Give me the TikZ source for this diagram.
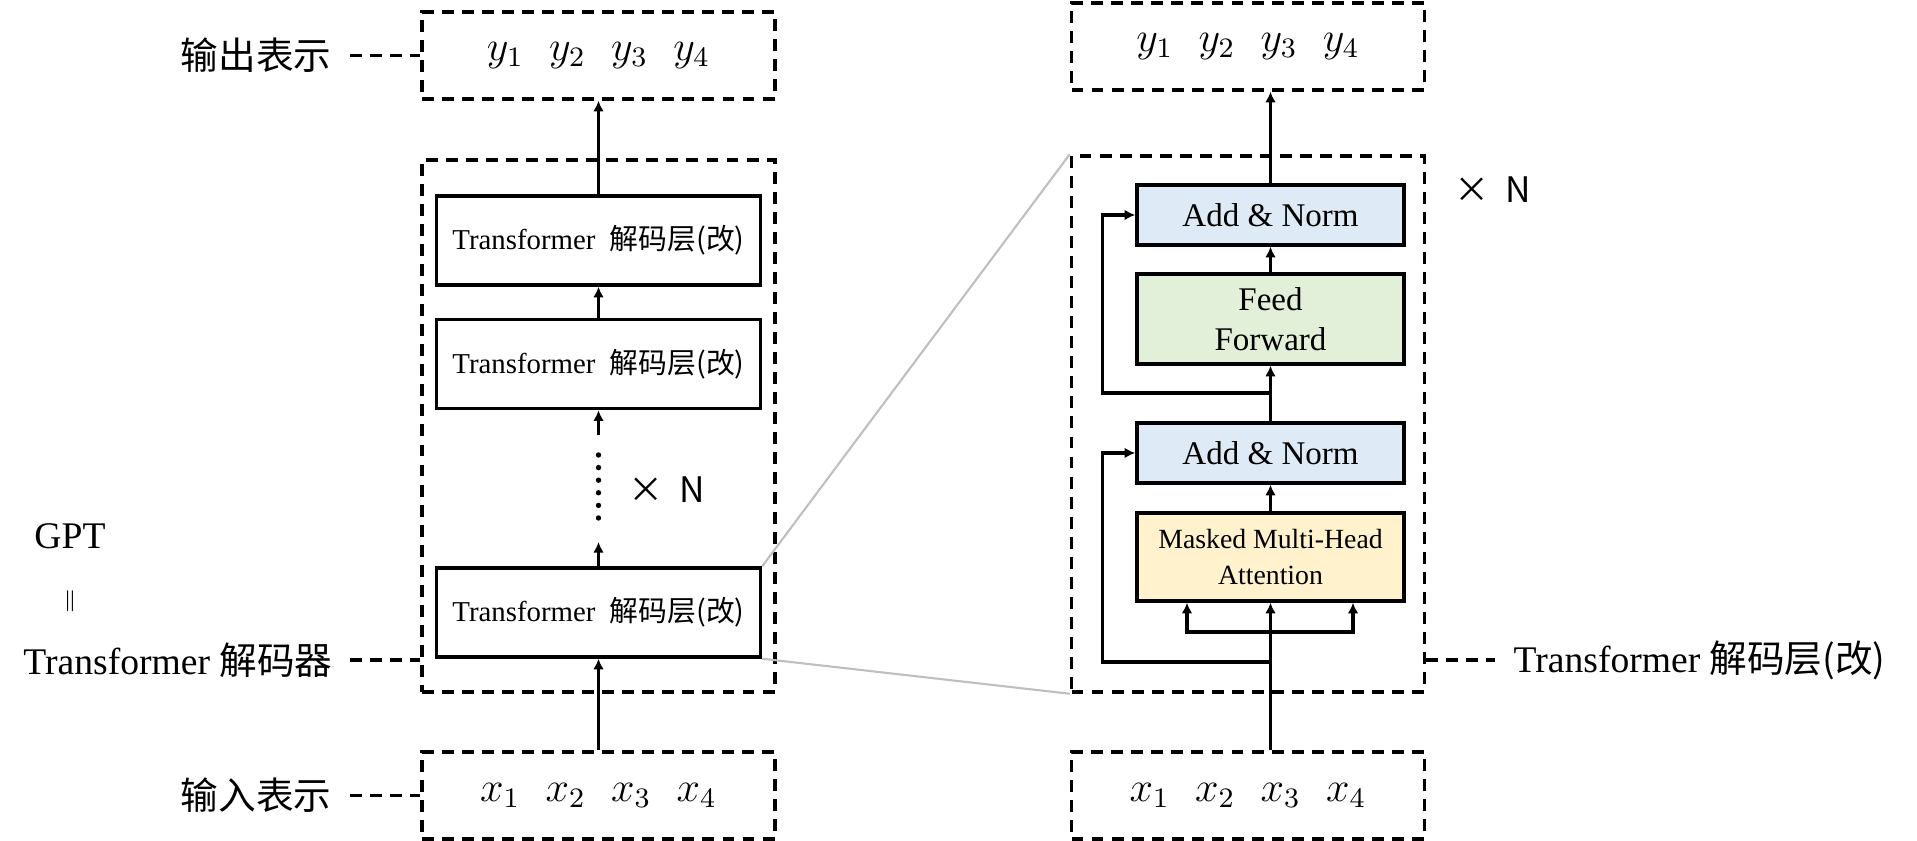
\documentclass[tikz,border=0pt]{standalone}
\usepackage{fontspec}
\setmainfont{Liberation Serif}
\newfontfamily\cjk{Noto Sans CJK SC}
\usepackage{tikz}
\usetikzlibrary{arrows.meta,positioning,calc}

\definecolor{normblue}{HTML}{DEEBF7}
\definecolor{ffgreen}{HTML}{E2F0D9}
\definecolor{attnyellow}{HTML}{FFF2CC}
\definecolor{zoomgray}{HTML}{BFBFBF}

\begin{document}
\begin{tikzpicture}[
  dashbox/.style={draw,dash pattern=on 3.4pt off 2.3pt,line width=1pt,minimum width=3.53cm,inner sep=0pt},
  layer/.style={draw,line width=1pt,minimum width=3.24cm,minimum height=0.89cm,inner sep=0pt,font=\fontsize{8.2}{10}\selectfont},
  sub/.style={draw,line width=1pt,minimum width=2.67cm,inner sep=0pt,align=center},
  flow/.style={-{Latex[length=3pt,width=3pt]},line width=0.9pt},
  leader/.style={dash pattern=on 3.4pt off 2.3pt,line width=1pt},
  tag/.style={inner sep=0pt,font=\fontsize{10.7}{12.5}\selectfont},
  seq/.style={font=\fontsize{12}{14}\selectfont},
  rep/.style={font=\cjk\fontsize{10}{12}\selectfont},
  zoomline/.style={zoomgray,line width=0.6pt}
]
\useasboundingbox (0,0) rectangle (19.17,8.41);

% Left: decoder stack
\node[dashbox,minimum height=0.87cm,seq] (outL) at (5.985,7.855) {$y_1\hspace{0.6em}y_2\hspace{0.6em}y_3\hspace{0.6em}y_4$};
\node[dashbox,minimum height=5.32cm] (decL) at (5.985,4.15) {};
\node[layer] (L1) at (5.985,6.005) {Transformer\ \ {\cjk 解码层(改)}};
\node[layer] (L2) at (5.985,4.77) {Transformer\ \ {\cjk 解码层(改)}};
\node[layer] (L3) at (5.985,2.285) {Transformer\ \ {\cjk 解码层(改)}};
\node[dashbox,minimum height=0.87cm,seq] (inL) at (5.985,0.455) {$x_1\hspace{0.6em}x_2\hspace{0.6em}x_3\hspace{0.6em}x_4$};
\coordinate (d1) at (5.985,2.99);
\coordinate (d2) at (5.985,4.06);
\foreach \k in {0,...,5}
  \fill (5.985,3.23+0.126*\k) circle (0.027);
\node[rep] (repL) at (6.67,3.51) {×\ \ N};

% Left: flow
\draw[flow] (inL) -- (L3);
\draw[flow] (L3.north) -- (d1);
\draw[flow] (d2) -- (L2.south);
\draw[flow] (L2) -- (L1);
\draw[flow] (L1) -- (outL);

% Left: labels
\node[tag,anchor=east] (tagOut) at (3.32,7.855) {\cjk 输出表示};
\node[tag,anchor=east] (tagIn) at (3.32,0.455) {\cjk 输入表示};
\node[tag,anchor=east] (tagDec) at (3.33,1.81) {Transformer {\cjk 解码器}};
\node[tag] (gpt) at (0.70,3.05) {GPT};
\node[font=\fontsize{6}{7}\selectfont] (eq) at (0.70,2.40) {$\|$};
\draw[leader] ([xshift=0.18cm]tagOut.east) -- (tagOut.east -| outL.west);
\draw[leader] ([xshift=0.18cm]tagIn.east) -- (tagIn.east -| inL.west);
\draw[leader] ([xshift=0.17cm]tagDec.east) -- (tagDec.east -| decL.west);

% Right: one decoder layer
\node[dashbox,minimum height=0.87cm,seq] (outR) at (12.48,7.945) {$y_1\hspace{0.6em}y_2\hspace{0.6em}y_3\hspace{0.6em}y_4$};
\node[dashbox,minimum height=5.36cm] (decR) at (12.48,4.17) {};
\node[sub,fill=normblue,minimum height=0.60cm,font=\fontsize{9.4}{11}\selectfont] (an1) at (12.705,6.26) {Add \& Norm};
\node[sub,fill=ffgreen,minimum height=0.90cm,font=\fontsize{9.4}{11.4}\selectfont] (ff) at (12.705,5.22) {Feed\\Forward};
\node[sub,fill=normblue,minimum height=0.60cm,font=\fontsize{9.4}{11}\selectfont] (an2) at (12.705,3.88) {Add \& Norm};
\node[sub,fill=attnyellow,minimum height=0.88cm,font=\fontsize{7.9}{10}\selectfont] (attn) at (12.705,2.84) {Masked Multi-Head\\Attention};
\node[dashbox,minimum height=0.87cm,seq] (inR) at (12.48,0.455) {$x_1\hspace{0.6em}x_2\hspace{0.6em}x_3\hspace{0.6em}x_4$};
\node[rep] (repR) at (14.93,6.51) {×\ \ N};
\coordinate (br) at (12.705,2.09);
\coordinate (res1) at (12.705,1.79);
\coordinate (res2) at (12.705,4.48);

% Right: flow
\draw[flow] (inR.north -| attn.south) -- (attn.south);
\draw[flow] (br) -| ([xshift=-0.835cm]attn.south);
\draw[flow] (br) -| ([xshift=0.825cm]attn.south);
\draw[flow] (attn) -- (an2);
\draw[flow] (an2) -- (ff);
\draw[flow] (ff) -- (an1);
\draw[flow] (an1.north) -- (an1.north |- outR.south);
\draw[flow] (res1) -| ([xshift=-0.33cm]an2.west) -- (an2.west);
\draw[flow] (res2) -| ([xshift=-0.33cm]an1.west) -- (an1.west);

% Right: label
\node[tag,anchor=west] (tagLayer) at (15.13,1.81) {Transformer {\cjk 解码层(改)}};
\draw[leader] (tagLayer.west -| decR.east) -- ([xshift=-0.18cm]tagLayer.west);

% Zoom lines
\draw[zoomline] (L3.north east) -- (decR.north west);
\draw[zoomline] (L3.south east) -- (decR.south west);
\end{tikzpicture}
\end{document}
